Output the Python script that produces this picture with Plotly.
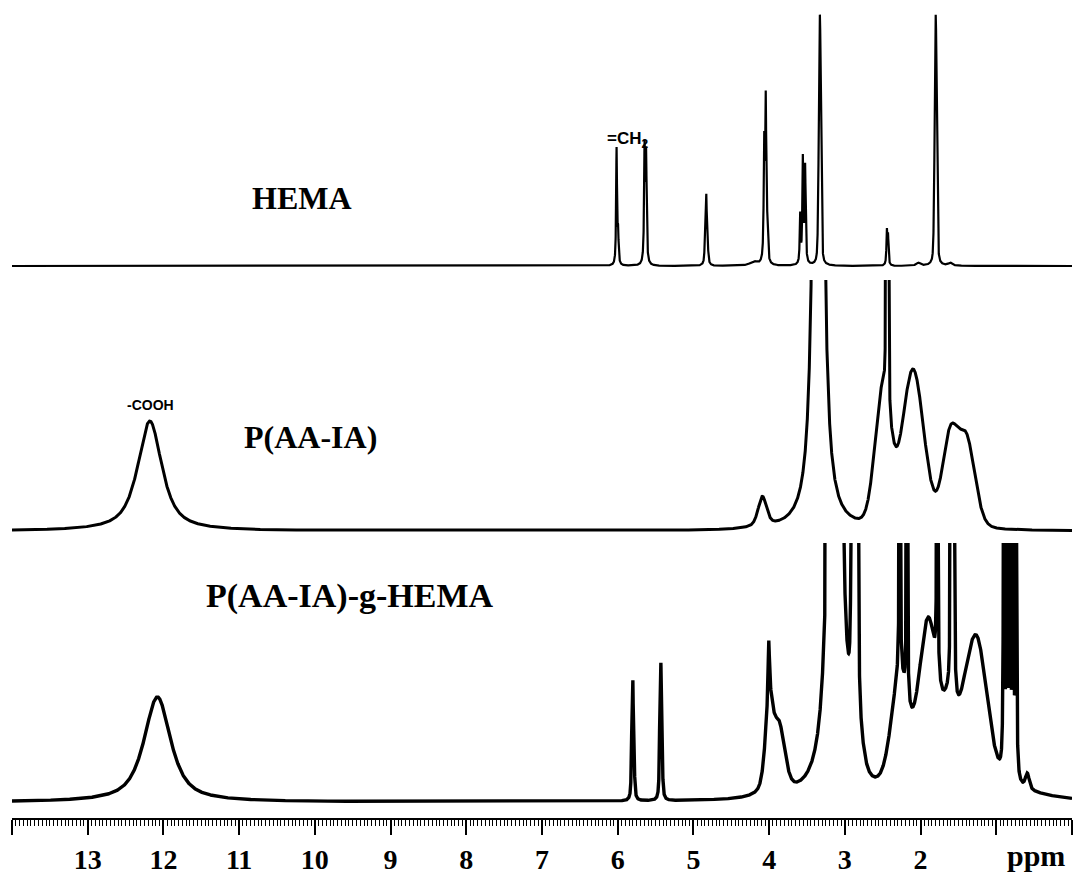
import numpy as np
import plotly.graph_objects as go

# ---------------------------------------------------------------
# 1H NMR peak tables (chemical shift in ppm, intensity in a.u.,
# half width at half maximum in ppm, Lorentzian fraction)
# ---------------------------------------------------------------
hema_shift = [6.015, 5.995, 5.645, 5.625, 4.845, 4.830, 4.815, 4.200,
              4.065, 4.045, 4.025, 3.590, 3.555, 3.525, 3.330, 2.445,
              2.430, 2.030, 1.800, 1.610]
hema_height = [116, 30, 113, 105, 33, 61, 35, 4,
               113, 157, 30, 48, 104, 96, 251, 33,
               28, 3, 251, 3]
hema_width = [0.007, 0.007, 0.008, 0.008, 0.007, 0.007, 0.007, 0.06,
              0.008, 0.008, 0.008, 0.007, 0.008, 0.008, 0.016, 0.007,
              0.007, 0.03, 0.016, 0.03]
hema_eta = [0.9] * 14 + [0.3] + [0.9] * 3 + [0.3, 0.9]

paa_shift = [12.18, 4.09, 3.35, 2.50, 2.455, 2.440, 2.425, 2.10, 1.61, 1.39]
paa_height = [110, 30, 3500, 135, 400, 400, 400, 158, 88, 86]
paa_width = [0.19, 0.066, 0.0264, 0.12, 0.005, 0.005, 0.005, 0.17, 0.12, 0.13]
paa_eta = [0.8, 0.5, 1.0, 0.1, 0.6, 0.6, 0.6, 0.1, 0.1, 0.2]

graft_shift = [12.08, 5.815, 5.800, 5.785, 5.445, 5.430, 5.415,
               4.005, 4.000, 3.870, 3.130,
               2.910, 2.890, 2.870, 2.850, 2.830, 2.850,
               2.280, 2.275, 2.180, 1.900, 1.780,
               1.600, 1.580, 1.560, 1.620, 1.400, 1.240,
               0.900, 0.860, 0.820, 0.780, 0.740, 0.590, 0.900]
graft_height = [105, 50, 105, 45, 60, 119, 55,
                55, 85, 65, 5000,
                500, 500, 500, 500, 500, 50,
                110, 600, 600, 170, 600,
                500, 500, 500, 60, 55, 125,
                500, 500, 500, 500, 500, 15, 10]
graft_width = [0.21, 0.007, 0.007, 0.007, 0.007, 0.007, 0.007,
               0.01, 0.06, 0.09, 0.0264,
               0.006, 0.006, 0.006, 0.006, 0.006, 0.08,
               0.13, 0.005, 0.005, 0.15, 0.005,
               0.005, 0.005, 0.005, 0.10, 0.15, 0.16,
               0.006, 0.006, 0.006, 0.006, 0.006, 0.03, 0.5]
graft_eta = [0.8, 0.9, 0.9, 0.9, 0.9, 0.9, 0.9,
             0.8, 0.5, 0.4, 1.0,
             1.0, 1.0, 1.0, 1.0, 1.0, 0.3,
             0.3, 1.0, 1.0, 0.3, 1.0,
             1.0, 1.0, 1.0, 0.3, 0.3, 0.3,
             1.0, 1.0, 1.0, 1.0, 1.0, 0.5, 0.5]

spectrum_names = ["HEMA", "P(AA-IA)", "P(AA-IA)-g-HEMA"]
major_ticks = [14, 13, 12, 11, 10, 9, 8, 7, 6, 5, 4, 3, 2, 1, 0]
major_labels = ["", "13", "12", "11", "10", "9", "8", "7", "6", "5", "4",
                "3", "2", "", ""]

# ---------------------------------------------------------------
ppm = np.linspace(14.0, 0.0, 28001)


def pseudo_voigt(x, centers, heights, widths, etas):
    y = np.zeros_like(x)
    for c, h, w, e in zip(centers, heights, widths, etas):
        u = ((x - c) / w) ** 2
        y += h * (e / (1.0 + u) + (1.0 - e) * np.exp(-np.log(2.0) * u))
    return y


spectra = [
    pseudo_voigt(ppm, hema_shift, hema_height, hema_width, hema_eta),
    pseudo_voigt(ppm, paa_shift, paa_height, paa_width, paa_eta),
    pseudo_voigt(ppm, graft_shift, graft_height, graft_width, graft_eta),
]

# page geometry (pixels)
W, H = 1078, 890
ML, MR, MT, MB = 12, 6, 0, 72
PW, PH = W - ML - MR, H - MT - MB


def px_x(px):
    return (px - ML) / PW


def px_y(py):
    return (PH - (py - MT)) / PH


# each trace gets its own stacked (overlapping) panel: top edge clips
# the tall solvent lines, baseline sits at the given pixel row
panels = [
    dict(top=0, bottom=300, base=266, lw=2.2),
    dict(top=280, bottom=560, base=531, lw=3.0),
    dict(top=543, bottom=818, base=802, lw=3.4),
]

fig = go.Figure()
layout_axes = {}
for i, (p, y, name) in enumerate(zip(panels, spectra, spectrum_names)):
    yname = "y" if i == 0 else f"y{i + 1}"
    fig.add_trace(go.Scatter(
        x=ppm, y=y, mode="lines", name=name, yaxis=yname, xaxis="x",
        line=dict(color="black", width=p["lw"]), hoverinfo="skip",
        showlegend=False))
    key = "yaxis" if i == 0 else f"yaxis{i + 1}"
    layout_axes[key] = dict(
        domain=[px_y(p["bottom"]), px_y(p["top"])],
        range=[-(p["bottom"] - p["base"]), p["base"] - p["top"]],
        visible=False, showgrid=False, zeroline=False, anchor="x")

fig.update_layout(**layout_axes)

serif = "Liberation Serif"
fig.update_layout(
    width=W, height=H,
    margin=dict(l=ML, r=MR, t=MT, b=MB),
    paper_bgcolor="white", plot_bgcolor="rgba(0,0,0,0)",
    xaxis=dict(
        range=[14, 0], domain=[0, 1], anchor="y3",
        showgrid=False, zeroline=False,
        showline=True, linecolor="black", linewidth=2,
        ticks="outside", ticklen=15, tickwidth=2, tickcolor="black",
        tickmode="array", tickvals=major_ticks, ticktext=major_labels,
        tickfont=dict(family=serif, size=28, color="black", weight="bold"),
        minor=dict(dtick=0.05, tick0=0, ticks="outside", ticklen=6,
                   tickwidth=1.2, tickcolor="black", showgrid=False),
    ),
)

label_font = dict(family=serif, size=32, color="black", weight="bold")
small_font = dict(family="Liberation Sans", size=14, color="black", weight="bold")
texts = [
    ("HEMA", 302, 198, label_font),
    ("P(AA-IA)", 310, 437, label_font),
    ("P(AA-IA)-g-HEMA", 349, 596, dict(label_font, size=34)),
    ("-COOH", 150, 405, small_font),
    ("=CH<sub>2</sub>", 627, 140, dict(small_font, size=17)),
    ("ppm", 1036, 855, dict(family=serif, size=30, color="black", weight="bold")),
]
for t, px, py, f in texts:
    fig.add_annotation(text=t, x=px_x(px), y=px_y(py), xref="paper",
                       yref="paper", showarrow=False, font=f,
                       xanchor="center", yanchor="middle")

fig.write_html("out.html")
